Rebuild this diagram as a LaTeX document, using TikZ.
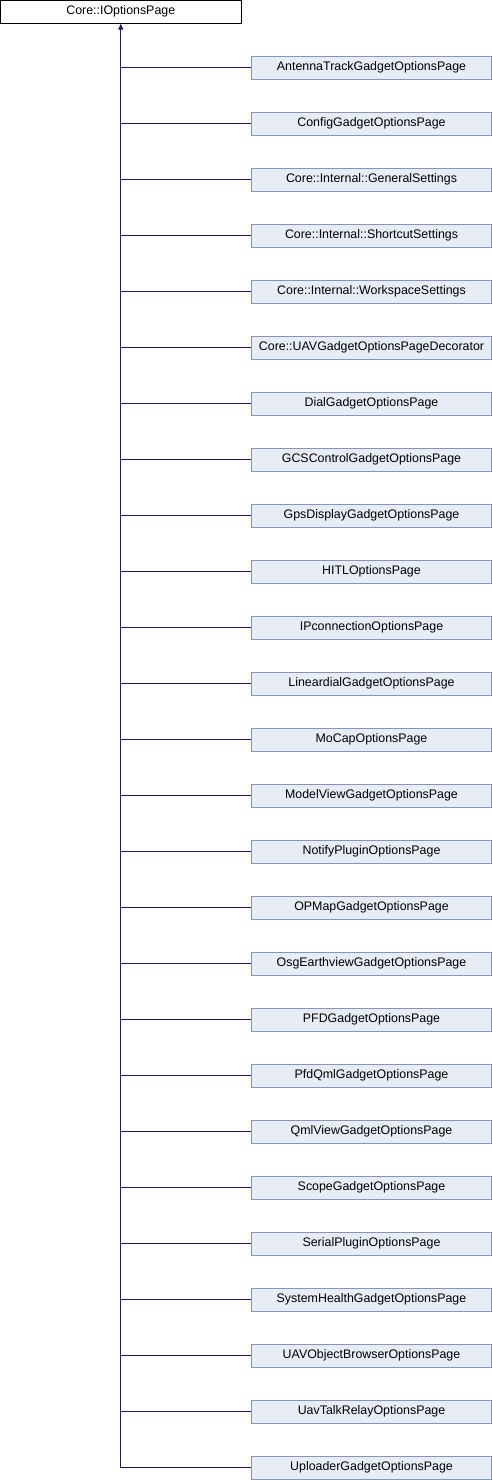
\documentclass[tikz,border=0pt]{standalone}
\usepackage{fontspec}
\setmainfont{Liberation Sans}
\usetikzlibrary{arrows.meta}
\definecolor{boxfill}{RGB}{232,236,244}
\definecolor{boxline}{RGB}{132,148,196}
\definecolor{edgecol}{RGB}{25,25,112}
\begin{document}
\begin{tikzpicture}[x=1pt,y=-1pt,
  base/.style={draw, minimum height=23pt, inner sep=0pt, font=\fontsize{12.4}{14}\selectfont, line width=0.9pt},
  topbox/.style={base, fill=white, draw=black, minimum width=240.5pt},
  childbox/.style={base, fill=boxfill, draw=boxline, minimum width=240pt},
  edge/.style={draw=edgecol, line width=1pt}]
\useasboundingbox (0,0) rectangle (492,1480);
\node[topbox] (top) at (120.75,11.75) {Core::IOptionsPage};
\foreach \name [count=\i from 0] in {
AntennaTrackGadgetOptionsPage,
ConfigGadgetOptionsPage,
Core::Internal::GeneralSettings,
Core::Internal::ShortcutSettings,
Core::Internal::WorkspaceSettings,
Core::UAVGadgetOptionsPageDecorator,
DialGadgetOptionsPage,
GCSControlGadgetOptionsPage,
GpsDisplayGadgetOptionsPage,
HITLOptionsPage,
IPconnectionOptionsPage,
LineardialGadgetOptionsPage,
MoCapOptionsPage,
ModelViewGadgetOptionsPage,
NotifyPluginOptionsPage,
OPMapGadgetOptionsPage,
OsgEarthviewGadgetOptionsPage,
PFDGadgetOptionsPage,
PfdQmlGadgetOptionsPage,
QmlViewGadgetOptionsPage,
ScopeGadgetOptionsPage,
SerialPluginOptionsPage,
SystemHealthGadgetOptionsPage,
UAVObjectBrowserOptionsPage,
UavTalkRelayOptionsPage,
UploaderGadgetOptionsPage}{
  \node[childbox] (c\i) at (371.5,{67.75+56*\i}) {\name};
  \draw[edge] (c\i.west) -- (c\i.west -| top.south);
}
\coordinate (trunkend) at (c25.west -| top.south);
\draw[edge, {Triangle[length=6pt,width=5pt]}-] (top.south) -- (trunkend);
\end{tikzpicture}
\end{document}
